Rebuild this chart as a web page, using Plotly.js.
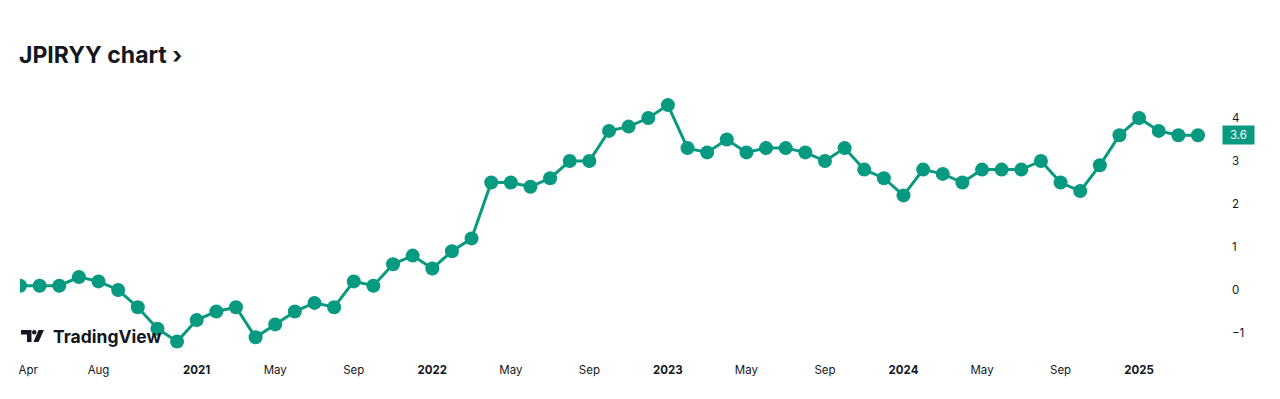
<!DOCTYPE html>
<html>
<head>
<meta charset="utf-8">
<script src="https://cdn.plot.ly/plotly-3.0.1.min.js"></script>
<style>
html,body{margin:0;padding:0;background:#fff;}
#chart{width:1280px;height:399px;}
</style>
</head>
<body>
<div id="chart"></div>
<script>
// Monthly JPIRYY (Japan inflation rate YoY, %), Apr 2020 .. Apr 2025
const months = [
 '2020-04','2020-05','2020-06','2020-07','2020-08','2020-09','2020-10','2020-11','2020-12',
 '2021-01','2021-02','2021-03','2021-04','2021-05','2021-06','2021-07','2021-08','2021-09','2021-10','2021-11','2021-12',
 '2022-01','2022-02','2022-03','2022-04','2022-05','2022-06','2022-07','2022-08','2022-09','2022-10','2022-11','2022-12',
 '2023-01','2023-02','2023-03','2023-04','2023-05','2023-06','2023-07','2023-08','2023-09','2023-10','2023-11','2023-12',
 '2024-01','2024-02','2024-03','2024-04','2024-05','2024-06','2024-07','2024-08','2024-09','2024-10','2024-11','2024-12',
 '2025-01','2025-02','2025-03','2025-04'
];
const values = [
 0.1,0.1,0.1,0.3,0.2,0.0,-0.4,-0.9,-1.2,
 -0.7,-0.5,-0.4,-1.1,-0.8,-0.5,-0.3,-0.4,0.2,0.1,0.6,0.8,
 0.5,0.9,1.2,2.5,2.5,2.4,2.6,3.0,3.0,3.7,3.8,4.0,
 4.3,3.3,3.2,3.5,3.2,3.3,3.3,3.2,3.0,3.3,2.8,2.6,
 2.2,2.8,2.7,2.5,2.8,2.8,2.8,3.0,2.5,2.3,2.9,3.6,
 4.0,3.7,3.6,3.6
];
const xTickMonths = ['2020-04','2020-08','2021-01','2021-05','2021-09','2022-01','2022-05','2022-09','2023-01','2023-05','2023-09','2024-01','2024-05','2024-09','2025-01'];
const xTickLabels = ['Apr','Aug','2021','May','Sep','2022','May','Sep','2023','May','Sep','2024','May','Sep','2025'];
const yTicks = [-1,0,1,2,3,4];

const idx = months.map((m,i)=>i);
const tickvals = xTickMonths.map(m => { const i = months.indexOf(m); return i === 0 ? 0.42 : i; });
const ticktext = xTickLabels.map(t => /^\d{4}$/.test(t) ? '<b>' + t + '</b>' : t);

const green = '#089981';
const lastVal = values[values.length-1];

// plot area in pixels (for logo placement)
const L = 20, R = 1212, T = 88, B = 352;
const px = x => (x - L) / (R - L);
const py = y => (B - y) / (B - T);

const shapes = [
  // TradingView logo mark
  {type:'path', xref:'paper', yref:'paper', layer:'above', line:{width:0}, fillcolor:'#131722',
   path:`M ${px(21)} ${py(330)} L ${px(31.5)} ${py(330)} L ${px(31.5)} ${py(342)} L ${px(27)} ${py(342)} L ${px(27)} ${py(334.5)} L ${px(21)} ${py(334.5)} Z`},
  {type:'circle', xref:'paper', yref:'paper', layer:'above', line:{width:0}, fillcolor:'#131722',
   x0:px(32), x1:px(36.5), y0:py(334.5), y1:py(330)},
  {type:'path', xref:'paper', yref:'paper', layer:'above', line:{width:0}, fillcolor:'#131722',
   path:`M ${px(38.5)} ${py(330)} L ${px(44)} ${py(330)} L ${px(38.5)} ${py(342)} L ${px(33.5)} ${py(342)} Z`}
];

const data = [{
  x: idx, y: values, type:'scatter', mode:'lines+markers',
  line:{color:green, width:3},
  marker:{color:green, size:14},
  hoverinfo:'skip', cliponaxis:true
}];

const layout = {
  width:1280, height:399,
  margin:{l:L, r:1280-R, t:T, b:399-B},
  paper_bgcolor:'#fff', plot_bgcolor:'#fff',
  showlegend:false,
  font:{family:'Inter, Roboto, sans-serif', color:'#131722', size:11},
  title:{text:'<b>JPIRYY chart ›</b>', x:19/1280, xanchor:'left', xref:'container', y:1-55/399, yref:'container', yanchor:'middle',
         font:{family:'Inter, Roboto, sans-serif', size:23, color:'#131722'}},
  xaxis:{range:[0,(R-L)/((1198-20)/60)], tickvals:tickvals, ticktext:ticktext,
         showgrid:false, zeroline:false, showline:false, ticks:'', fixedrange:true,
         tickfont:{size:11.5, color:'#131722'}, ticklabelstandoff:9},
  yaxis:{side:'right', range:[(290-B)/43,(290-T)/43], tickvals:yTicks,
         showgrid:false, zeroline:false, showline:false, ticks:'', fixedrange:true,
         tickfont:{size:11.5, color:'#131722'}, ticklabelstandoff:19},
  shapes:shapes,
  annotations:[
    {xref:'paper', yref:'y', x:1, y:lastVal, xanchor:'left', yanchor:'middle', xshift:10,
     text:String(lastVal), showarrow:false, bgcolor:green, borderpad:2, width:27,
     font:{color:'#fff', size:11.5, family:'Inter, Roboto, sans-serif'}},
    {xref:'paper', yref:'paper', x:px(51), y:py(336.5), xanchor:'left', yanchor:'middle',
     text:'<b>TradingView</b>', showarrow:false,
     font:{color:'#131722', size:17.5, family:'Inter, Roboto, sans-serif'}}
  ]
};

Plotly.newPlot('chart', data, layout, {displayModeBar:false, staticPlot:true});
</script>
</body>
</html>
